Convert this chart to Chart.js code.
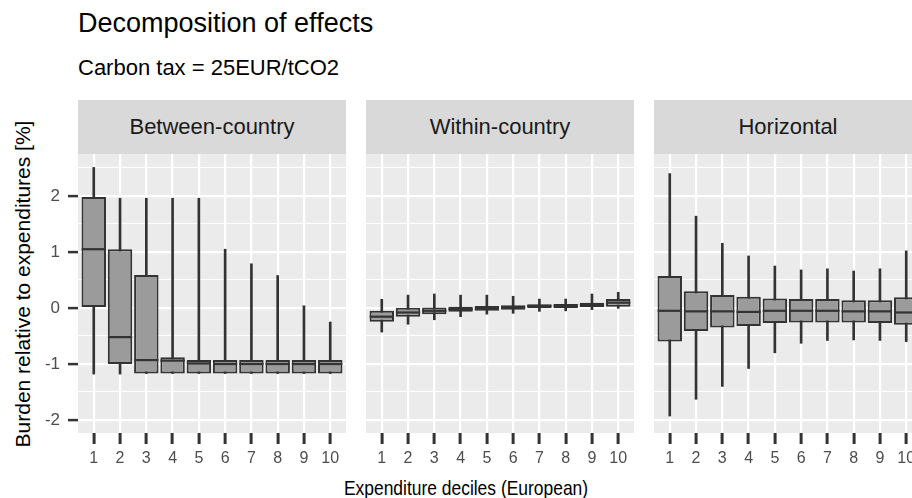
<!DOCTYPE html>
<html>
<head>
<meta charset="utf-8">
<script src="https://cdn.jsdelivr.net/npm/chart.js@4/dist/chart.umd.min.js"></script>
<style>
html,body{margin:0;padding:0;width:912px;height:498px;overflow:hidden;background:#fff;font-family:"Liberation Sans",Arial,sans-serif;}
.abs{position:absolute;white-space:nowrap;}
#title{left:78px;top:10px;font-size:27px;line-height:1;color:#000;}
#subtitle{left:78px;top:57px;font-size:22px;line-height:1;color:#000;}
.strip{top:100px;height:54px;width:268px;background:#D9D9D9;color:#1A1A1A;font-size:22px;display:flex;align-items:center;justify-content:center;}
#ytitle{left:22px;top:284px;transform:translate(-50%,-50%) rotate(-90deg);font-size:21px;line-height:1;color:#000;}
#xtitle{left:466px;top:487px;transform:translate(-50%,-50%) scaleX(0.83);font-size:21px;line-height:1;color:#000;}
canvas{position:absolute;top:100px;}
</style>
</head>
<body>
<div id="title" class="abs">Decomposition of effects</div>
<div id="subtitle" class="abs">Carbon tax = 25EUR/tCO2</div>
<div id="s1" class="abs strip" style="left:78px">Between-country</div>
<div id="s2" class="abs strip" style="left:366px">Within-country</div>
<div id="s3" class="abs strip" style="left:654px">Horizontal</div>
<div id="ytitle" class="abs">Burden relative to expenditures [%]</div>
<div id="xtitle" class="abs">Expenditure deciles (European)</div>
<canvas id="c1" width="346" height="398" style="left:0px"></canvas>
<canvas id="c2" width="268" height="398" style="left:366px"></canvas>
<canvas id="c3" width="268" height="398" style="left:654px"></canvas>
<script>
// ---- data ----
const deciles = [1, 2, 3, 4, 5, 6, 7, 8, 9, 10];
const yTickValues = [-2, -1.5, -1, -0.5, 0, 0.5, 1, 1.5, 2, 2.5];
const panelNames = ['Between-country', 'Within-country', 'Horizontal'];

const betweenMin    = [-1.18, -1.18, -1.17, -1.17, -1.17, -1.17, -1.17, -1.17, -1.17, -1.17];
const betweenQ1     = [ 0.00, -1.00, -1.17, -1.17, -1.17, -1.17, -1.17, -1.17, -1.17, -1.17];
const betweenMedian = [ 1.05, -0.52, -0.93, -0.94, -0.99, -1.00, -1.00, -1.00, -1.00, -1.00];
const betweenQ3     = [ 1.98,  1.05,  0.59, -0.88, -0.93, -0.93, -0.93, -0.93, -0.93, -0.93];
const betweenMax    = [ 2.51,  1.96,  1.96,  1.96,  1.96,  1.05,  0.79,  0.58,  0.04, -0.25];

const withinMin    = [-0.43, -0.29, -0.21, -0.155, -0.11, -0.095, -0.06, -0.05, -0.03, -0.006];
const withinQ1     = [-0.245, -0.155, -0.11, -0.065, -0.05, -0.03, -0.006, -0.006, 0.0, 0.024];
const withinMedian = [-0.155, -0.08, -0.05, -0.018, -0.006, 0.012, 0.036, 0.036, 0.054, 0.095];
const withinQ3     = [-0.05, 0.005, 0.01, 0.024, 0.036, 0.048, 0.065, 0.07, 0.095, 0.16];
const withinMax    = [0.155, 0.23, 0.25, 0.23, 0.23, 0.21, 0.16, 0.16, 0.25, 0.28];

const horizMin    = [-1.93, -1.63, -1.40, -1.08, -0.80, -0.63, -0.58, -0.57, -0.58, -0.60];
const horizQ1     = [-0.60, -0.41, -0.35, -0.32, -0.27, -0.26, -0.26, -0.26, -0.27, -0.30];
const horizMedian = [-0.05, -0.06, -0.06, -0.07, -0.05, -0.05, -0.05, -0.06, -0.06, -0.08];
const horizQ3     = [ 0.57,  0.30,  0.23,  0.20,  0.17,  0.16,  0.16,  0.14,  0.14,  0.19];
const horizMax    = [ 2.40,  1.64,  1.155, 0.93,  0.75,  0.68,  0.70,  0.66,  0.70,  1.02];

// ---- styling ----
const BOX_FILL = '#9B9B9B';
const INK = '#333333';
const PANEL_BG = '#EBEBEB';

const panelBg = {
  id: 'panelBg',
  beforeDraw(chart) {
    const { ctx, chartArea: a } = chart;
    ctx.save();
    ctx.fillStyle = PANEL_BG;
    ctx.fillRect(a.left, a.top, a.right - a.left, a.bottom - a.top);
    ctx.restore();
  }
};

const isMajor = v => Math.abs(v - Math.round(v)) < 1e-9;

function makePanel(id, mins, q1s, meds, q3s, maxs, showY) {
  const ctx = document.getElementById(id);
  const whiskers = deciles.map((d, i) => ({ x: d, y: [mins[i], maxs[i]] }));
  const boxes = deciles.map((d, i) => ({ x: d, y: [q1s[i], q3s[i]] }));
  const medians = deciles.map((d, i) => ({ x: d, y: meds[i] }));
  return new Chart(ctx, {
    type: 'bar',
    data: {
      datasets: [
        {
          type: 'line', data: medians, order: 0, showLine: false,
          pointStyle: 'line', pointBorderColor: INK, pointBorderWidth: 2.2,
          pointRadius: c => {
            const s = c.chart.scales.x;
            return Math.abs(s.getPixelForValue(1.46) - s.getPixelForValue(1));
          },
          pointHoverRadius: 0
        },
        {
          data: boxes, order: 1, grouped: false,
          backgroundColor: BOX_FILL, borderColor: INK, borderWidth: 2,
          borderSkipped: false, categoryPercentage: 1, barPercentage: 0.93
        },
        {
          data: whiskers, order: 2, grouped: false,
          backgroundColor: INK, borderWidth: 0, barThickness: 2
        }
      ]
    },
    options: {
      responsive: false,
      animation: false,
      events: [],
      layout: { padding: { top: 54, bottom: 25, left: 0, right: 0 } },
      plugins: { legend: { display: false }, tooltip: { enabled: false } },
      scales: {
        x: {
          type: 'linear', min: 0.4, max: 10.6, offset: false,
          afterBuildTicks: s => { s.ticks = deciles.map(v => ({ value: v })); },
          afterFit: s => { s.height = 40; },
          border: { display: false },
          grid: { offset: false, color: '#FFFFFF', lineWidth: 2.2, tickColor: INK, tickWidth: 3, tickLength: 11 },
          ticks: {
            color: '#4D4D4D', padding: 5, maxRotation: 0, autoSkip: false,
            font: { family: "'Liberation Sans', Arial", size: 16 },
            callback: v => String(v)
          }
        },
        y: {
          type: 'linear', min: -2.232, max: 2.75,
          afterBuildTicks: s => { s.ticks = yTickValues.map(v => ({ value: v })); },
          afterFit: s => { s.width = showY ? 78 : 0; },
          border: { display: false },
          grid: {
            color: '#FFFFFF',
            lineWidth: c => (c.tick && isMajor(c.tick.value)) ? 2.2 : 1.1,
            tickColor: c => (c.tick && isMajor(c.tick.value)) ? INK : 'rgba(0,0,0,0)',
            tickWidth: 2.5, tickLength: showY ? 10 : 0, drawTicks: showY
          },
          ticks: {
            display: showY, color: '#4D4D4D', padding: 8,
            font: { family: "'Liberation Sans', Arial", size: 17 },
            callback: v => isMajor(v) ? String(Math.round(v)) : ''
          }
        }
      }
    },
    plugins: [panelBg]
  });
}

makePanel('c1', betweenMin, betweenQ1, betweenMedian, betweenQ3, betweenMax, true);
makePanel('c2', withinMin, withinQ1, withinMedian, withinQ3, withinMax, false);
makePanel('c3', horizMin, horizQ1, horizMedian, horizQ3, horizMax, false);
</script>
</body>
</html>
